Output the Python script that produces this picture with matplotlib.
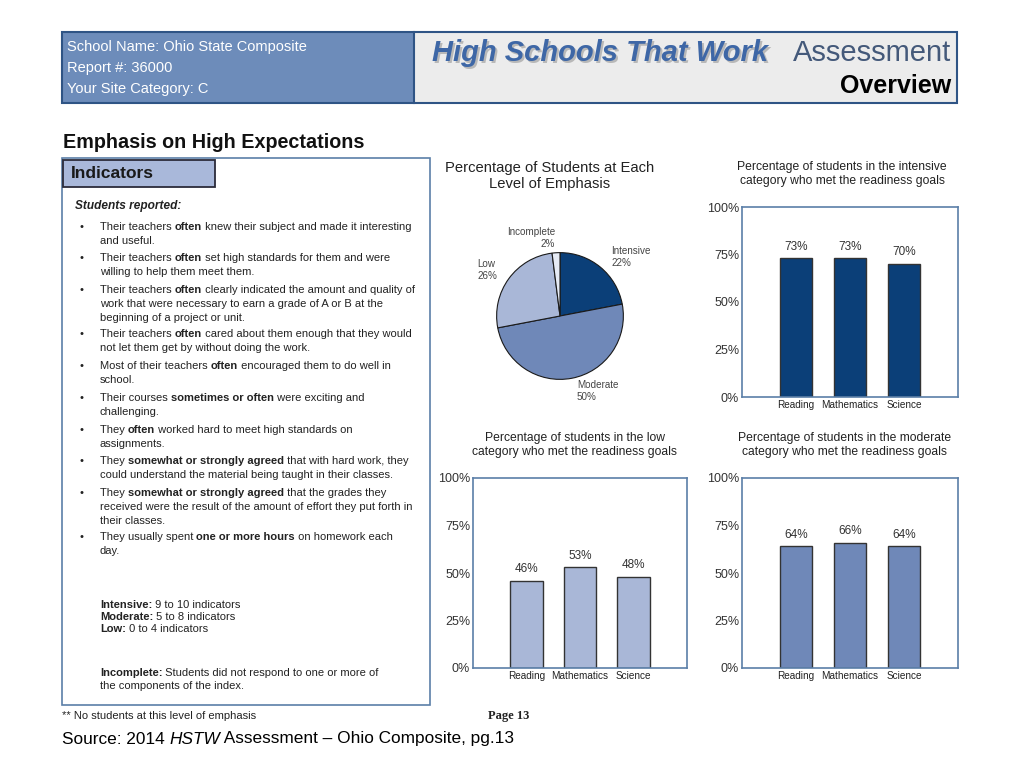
import matplotlib
matplotlib.use("Agg")
import matplotlib.pyplot as plt
from matplotlib.patches import Rectangle

plt.rcParams["font.family"] = ["Liberation Sans", "DejaVu Sans"]

W, H = 1024, 768

# header
school_info = ["School Name: Ohio State Composite", "Report #: 36000", "Your Site Category: C"]

# indicators list: each bullet is a list of lines, each line a list of (text, bold)
indicators = [
    [[("Their teachers ", False), ("often", True), (" knew their subject and made it interesting", False)],
     [("and useful.", False)]],
    [[("Their teachers ", False), ("often", True), (" set high standards for them and were", False)],
     [("willing to help them meet them.", False)]],
    [[("Their teachers ", False), ("often", True), (" clearly indicated the amount and quality of", False)],
     [("work that were necessary to earn a grade of A or B at the", False)],
     [("beginning of a project or unit.", False)]],
    [[("Their teachers ", False), ("often", True), (" cared about them enough that they would", False)],
     [("not let them get by without doing the work.", False)]],
    [[("Most of their teachers ", False), ("often", True), (" encouraged them to do well in", False)],
     [("school.", False)]],
    [[("Their courses ", False), ("sometimes or often", True), (" were exciting and", False)],
     [("challenging.", False)]],
    [[("They ", False), ("often", True), (" worked hard to meet high standards on", False)],
     [("assignments.", False)]],
    [[("They ", False), ("somewhat or strongly agreed", True), (" that with hard work, they", False)],
     [("could understand the material being taught in their classes.", False)]],
    [[("They ", False), ("somewhat or strongly agreed", True), (" that the grades they", False)],
     [("received were the result of the amount of effort they put forth in", False)],
     [("their classes.", False)]],
    [[("They usually spent ", False), ("one or more hours", True), (" on homework each", False)],
     [("day.", False)]],
]
bullet_tops = [227, 258, 290, 334, 366, 398, 430, 461, 493, 537]

levels_def = [("Intensive:", " 9 to 10 indicators"),
              ("Moderate:", " 5 to 8 indicators"),
              ("Low:", " 0 to 4 indicators")]

# pie data
pie_labels = ["Intensive", "Moderate", "Low", "Incomplete"]
pie_values = [22, 50, 26, 2]
pie_colors = ["#0b3f78", "#6f88b8", "#a9b7d7", "#e6ebf5"]

# bar charts
subjects = ["Reading", "Mathematics", "Science"]
intensive_met = [73, 73, 70]
low_met = [46, 53, 48]
moderate_met = [64, 66, 64]

BODY = 8.0

fig = plt.figure(figsize=(W / 100, H / 100), dpi=100)
canvas = fig.add_axes([0, 0, 1, 1])
canvas.set_xlim(0, W)
canvas.set_ylim(H, 0)
canvas.axis("off")
renderer = fig.canvas.get_renderer()


def rect_axes(x0, y0, x1, y1):
    return fig.add_axes([x0 / W, 1 - y1 / H, (x1 - x0) / W, (y1 - y0) / H])


def draw_runs(x, y, parts, size, color="#222222"):
    # draw pieces of one line one after the other, bold or italic where asked
    for txt, style in parts:
        kw = {}
        if style is True or style == "bold":
            kw["fontweight"] = "bold"
        elif style == "italic":
            kw["style"] = "italic"
        t = canvas.text(x, y, txt, fontsize=size, color=color, va="center", ha="left", **kw)
        x += t.get_window_extent(renderer=renderer).width
    return x


# ---- header
canvas.add_patch(Rectangle((62, 32), 352, 71, facecolor="#6d8cba", edgecolor="none"))
canvas.add_patch(Rectangle((414, 32), 543, 71, facecolor="#ececec", edgecolor="none"))
canvas.add_patch(Rectangle((62, 32), 895, 71, facecolor="none", edgecolor="#2f5485", lw=1.5))
canvas.plot([414, 414], [32, 103], color="#2f5485", lw=1.5)
for i, s in enumerate(school_info):
    canvas.text(67, 47 + i * 21, s, fontsize=10.5, color="white", va="center")
canvas.text(434, 55, "High Schools That Work", fontsize=21, fontweight="bold",
            style="italic", color="#b8b8b8", va="center")
canvas.text(432, 53, "High Schools That Work", fontsize=21, fontweight="bold",
            style="italic", color="#3e67a6", va="center")
canvas.text(951, 53, "Assessment", fontsize=21, color="#44597a", va="center", ha="right")
canvas.text(951, 86, "Overview", fontsize=18, fontweight="bold", color="black",
            va="center", ha="right")

# ---- section title and indicators box
canvas.text(63, 143, "Emphasis on High Expectations", fontsize=14.2, fontweight="bold",
            color="#111111", va="center")
canvas.add_patch(Rectangle((62, 158), 368, 547, facecolor="white", edgecolor="#5b7fa8", lw=1.2))
canvas.add_patch(Rectangle((63, 160), 152, 27, facecolor="#a9b8da", edgecolor="#2b2b3a", lw=1.3))
canvas.text(71, 174, "Indicators", fontsize=12.5, fontweight="bold", color="#1a1a1a", va="center")
canvas.text(75, 206, "Students reported:", fontsize=8.6, fontweight="bold", style="italic",
            color="#222222", va="center")

for top, lines in zip(bullet_tops, indicators):
    canvas.text(80, top, "\u2022", fontsize=BODY, color="#222222", va="center")
    for j, line in enumerate(lines):
        draw_runs(100, top + j * 13.8, line, BODY)

for i, (head, rest) in enumerate(levels_def):
    draw_runs(100, 605 + i * 12, [(head, True), (rest, False)], BODY)
draw_runs(100, 673, [("Incomplete:", True), (" Students did not respond to one or more of", False)], BODY)
draw_runs(100, 686, [("the components of the index.", False)], BODY)

canvas.text(62, 716, "** No students at this level of emphasis", fontsize=BODY,
            color="#222222", va="center")
canvas.text(488, 716, "Page 13", fontsize=9, fontweight="bold",
            family=["Liberation Serif", "DejaVu Serif"], color="#222222", va="center")
draw_runs(62, 739, [("Source: 2014 ", False), ("HSTW", "italic"),
                    (" Assessment \u2013 Ohio Composite, pg.13", False)], 12.4, color="black")

# ---- pie chart
canvas.text(550, 176, "Percentage of Students at Each\nLevel of Emphasis", fontsize=10.6,
            color="#222222", ha="center", va="center", linespacing=1.1)
pax = rect_axes(496, 252, 624, 380)
pax.pie(pie_values, colors=pie_colors, startangle=90, counterclock=False,
        wedgeprops=dict(edgecolor="#1a1a1a", linewidth=0.8))
pax.set_xlim(-1.01, 1.01)
pax.set_ylim(-1.01, 1.01)
pax.set_aspect("equal")
pie_label_pos = {"Intensive": (611, 257, "left"), "Moderate": (577, 391, "left"),
                 "Low": (477, 270, "left"), "Incomplete": (555, 238, "right")}
for name, val in zip(pie_labels, pie_values):
    px, py, ha = pie_label_pos[name]
    canvas.text(px, py, f"{name}\n{val}%", fontsize=7.1, color="#444444", ha=ha,
                va="center", linespacing=1.15)


# ---- bar charts
def bar_chart(box, values, color, title, title_x, title_y):
    ax = rect_axes(*box)
    x = range(len(subjects))
    ax.bar(x, values, width=0.6, color=color, edgecolor="#333333", linewidth=1)
    for xi, v in zip(x, values):
        ax.text(xi, v + 3, f"{v}%", ha="center", va="bottom", fontsize=8.5, color="#333333")
    ax.set_xlim(-1, 3)
    ax.set_ylim(0, 100)
    ax.set_yticks([0, 25, 50, 75, 100])
    ax.set_yticklabels([f"{t}%" for t in [0, 25, 50, 75, 100]])
    ax.set_xticks(list(x))
    ax.set_xticklabels(subjects)
    ax.tick_params(axis="y", length=0, pad=2, labelsize=9, labelcolor="#333333")
    ax.tick_params(axis="x", length=0, pad=2, labelsize=7.2, labelcolor="#222222")
    for sp in ax.spines.values():
        sp.set_color("#5b7fa8")
        sp.set_linewidth(1.2)
    canvas.text(title_x, title_y, title, fontsize=8.7, color="#222222", ha="center",
                va="center", linespacing=1.15)
    return ax


bar_chart((742, 207, 958, 397), intensive_met, "#0b3f78",
          "Percentage of students in the intensive\ncategory who met the readiness goals", 842, 174)
bar_chart((473, 478, 687, 668), low_met, "#a9b7d7",
          "Percentage of students in the low\ncategory who met the readiness goals", 575, 445)
bar_chart((742, 478, 958, 668), moderate_met, "#6f88b8",
          "Percentage of students in the moderate\ncategory who met the readiness goals", 845, 445)

fig.savefig("out.png", dpi=100)
